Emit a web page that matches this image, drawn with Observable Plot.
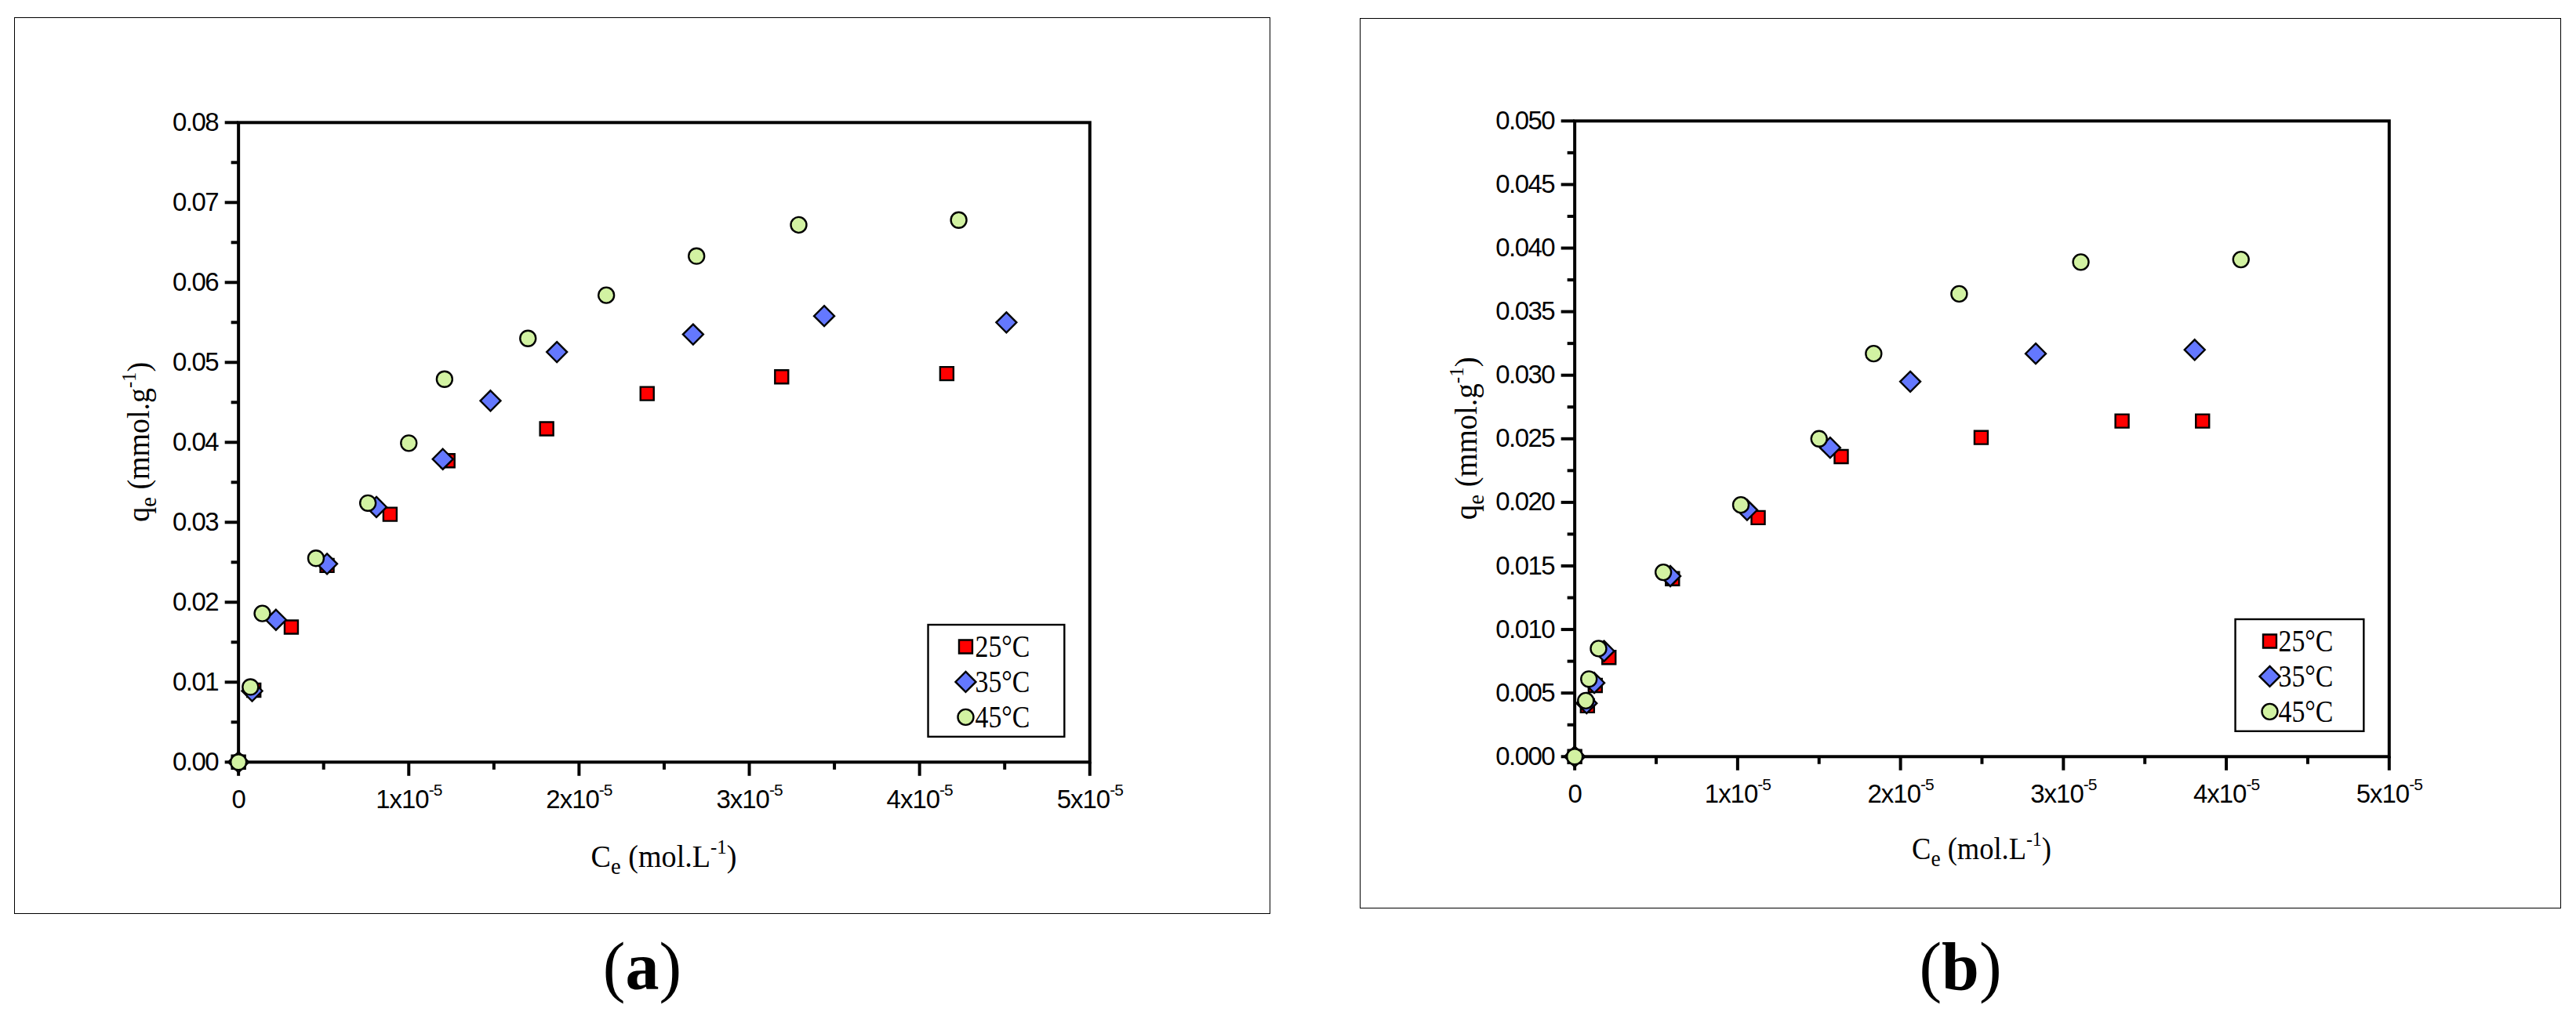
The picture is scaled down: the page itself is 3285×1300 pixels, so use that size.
<!DOCTYPE html>
<html>
<head>
<meta charset="utf-8">
<script src="https://cdn.jsdelivr.net/npm/d3@7"></script>
<script src="https://cdn.jsdelivr.net/npm/@observablehq/plot@0.6"></script>
<style>
  html, body { margin: 0; padding: 0; background: #fff; }
  body { width: 3285px; height: 1300px; position: relative; overflow: hidden; }
  .panel { position: absolute; box-sizing: border-box; border: 1.3px solid #000; }
  .panel svg { position: absolute; left: -1px; top: -1px; overflow: visible; }
  .cap { position: absolute; text-align: center; font-family: "Liberation Serif", "Times New Roman", serif;
         font-size: 86px; line-height: 1; color: #000; }
  .cap b { font-weight: bold; }
</style>
</head>
<body>
<div id="pa" class="panel" style="left:18px; top:22px; width:1602px; height:1144px;"></div>
<div id="pb" class="panel" style="left:1734px; top:23px; width:1532px; height:1136px;"></div>
<div class="cap" style="left:18px; width:1602px; top:1190px;">(<b>a</b>)</div>
<div class="cap" style="left:1734px; width:1532px; top:1190px;">(<b>b</b>)</div>
<script>
// ---------- data ----------
const seriesNames = ["25°C", "35°C", "45°C"];

// x ticks (mol/L)
const xMajorTicks = [0, 1e-5, 2e-5, 3e-5, 4e-5, 5e-5];
const xMinorTicks = [0.5e-5, 1.5e-5, 2.5e-5, 3.5e-5, 4.5e-5];

// panel (a) y ticks
const aYMajor = [0, 0.01, 0.02, 0.03, 0.04, 0.05, 0.06, 0.07, 0.08];
const aYMinor = [0.005, 0.015, 0.025, 0.035, 0.045, 0.055, 0.065, 0.075];
// panel (b) y ticks
const bYMajor = [0, 0.005, 0.010, 0.015, 0.020, 0.025, 0.030, 0.035, 0.040, 0.045, 0.050];
const bYMinor = [0.0025, 0.0075, 0.0125, 0.0175, 0.0225, 0.0275, 0.0325, 0.0375, 0.0425, 0.0475];

// panel (a) — Ce in units of 1e-5 mol/L, qe in mmol/g
const a25Ce = [0, 0.09, 0.31, 0.52, 0.89, 1.23, 1.81, 2.40, 3.19, 4.16];
const a25Qe = [0, 0.0090, 0.0169, 0.0246, 0.0310, 0.0377, 0.0417, 0.0461, 0.0482, 0.0486];
const a35Ce = [0, 0.08, 0.22, 0.52, 0.81, 1.20, 1.48, 1.87, 2.67, 3.44, 4.51];
const a35Qe = [0, 0.0089, 0.0178, 0.0248, 0.0319, 0.0379, 0.0452, 0.0513, 0.0535, 0.0558, 0.0550];
const a45Ce = [0, 0.07, 0.14, 0.455, 0.76, 1.00, 1.21, 1.70, 2.16, 2.69, 3.29, 4.23];
const a45Qe = [0, 0.0094, 0.0186, 0.0255, 0.0324, 0.0399, 0.0479, 0.0530, 0.0584, 0.0633, 0.0672, 0.0678];

// panel (b)
const b25Ce = [0, 0.078, 0.126, 0.21, 0.60, 1.126, 1.636, 2.495, 3.36, 3.854];
const b25Qe = [0, 0.0040, 0.0056, 0.0078, 0.0140, 0.0188, 0.0236, 0.0251, 0.0264, 0.0264];
const b35Ce = [0, 0.073, 0.12, 0.18, 0.587, 1.058, 1.568, 2.06, 2.83, 3.806];
const b35Qe = [0, 0.0042, 0.0058, 0.0083, 0.0142, 0.0194, 0.0243, 0.0295, 0.0317, 0.0320];
const b45Ce = [0, 0.068, 0.087, 0.146, 0.544, 1.02, 1.50, 1.835, 2.36, 3.107, 4.09];
const b45Qe = [0, 0.0044, 0.0061, 0.0085, 0.0145, 0.0198, 0.0250, 0.0317, 0.0364, 0.0389, 0.0391];

// ---------- styling ----------
const NS = "http://www.w3.org/2000/svg";
const serif = "'Liberation Serif', 'Times New Roman', serif";
const sans = "'Liberation Sans', Arial, sans-serif";
const symStyles = [
  {symbol: "square",   r: 9.6,  fill: "#ff0000", d3sym: d3.symbolSquare,   size: 289},
  {symbol: "diamond2", r: 11.7, fill: "#6478ff", d3sym: d3.symbolDiamond2, size: 431},
  {symbol: "circle",   r: 10,   fill: "#d2f2a2", d3sym: d3.symbolCircle,   size: Math.PI * 100}
];

function rows(ce, qe) { return ce.map((c, i) => ({ce: c * 1e-5, qe: qe[i]})); }

function el(tag, attrs, parent) {
  const e = document.createElementNS(NS, tag);
  for (const k in attrs) e.setAttribute(k, attrs[k]);
  if (parent) parent.appendChild(e);
  return e;
}

function makePanel(cfg) {
  const host = document.getElementById(cfg.id);
  const {width, height, mL, mR, mT, mB} = cfg;
  const marks = [
    Plot.axisY(cfg.yMinor, {tickSize: 9, strokeWidth: 4, fill: "none", label: null}),
    Plot.axisY(cfg.yMajor, {tickSize: 17, tickPadding: 9, strokeWidth: 4, label: null,
      tickFormat: d => d.toFixed(cfg.yDigits)}),
    Plot.axisX(xMinorTicks, {tickSize: 10, strokeWidth: 4, fill: "none", label: null}),
    Plot.axisX(xMajorTicks, {tickSize: 18, tickPadding: 17, strokeWidth: 4, label: null,
      tickFormat: d => d === 0 ? "0" : `${Math.round(d * 1e5)}x10`}),
    Plot.frame({stroke: "#000", strokeWidth: 4})
  ];
  cfg.series.forEach((s, i) => {
    const st = symStyles[i];
    marks.push(Plot.dot(rows(s[0], s[1]), {x: "ce", y: "qe", symbol: st.symbol, r: st.r,
      fill: st.fill, stroke: "#000", strokeWidth: 2.4}));
  });
  const chart = Plot.plot({
    width, height, marginLeft: mL, marginRight: mR, marginTop: mT, marginBottom: mB,
    style: {fontFamily: sans, fontSize: "33px", color: "#000", background: "transparent", overflow: "visible"},
    x: {domain: [0, 5e-5]},
    y: {domain: cfg.yDomain},
    marks
  });
  host.appendChild(chart);
  const svg = chart;

  svg.querySelectorAll('g[aria-label="y-axis tick label"] text').forEach(t => t.setAttribute("letter-spacing", "-1.5"));
  svg.querySelectorAll('g[aria-label="x-axis tick label"] text').forEach(t => {
    t.setAttribute("letter-spacing", "-1");
    if (t.textContent !== "0") {
      const ts = el("tspan", {dy: "-16", "font-size": "21"}, t);
      ts.textContent = "-5";
    }
  });

  const plotW = width - mL - mR, plotH = height - mT - mB;

  // y label
  const gy = el("g", {}, svg);
  const ty = el("text", {"font-family": serif, "font-size": 40, fill: "#000", "text-anchor": "middle"}, gy);
  ty.innerHTML = 'q<tspan font-size="30" dy="9">e</tspan><tspan dy="-9"> (mmol.g</tspan><tspan font-size="26" dy="-17">-1</tspan><tspan dy="17">)</tspan>';
  const wy = ty.getComputedTextLength() || cfg.yLabW;
  gy.setAttribute("transform", `translate(${mL - cfg.yLabOff},${mT + plotH / 2}) rotate(-90) scale(${cfg.yLabW / wy},1)`);

  // x label
  const gx = el("g", {}, svg);
  const tx = el("text", {"font-family": serif, "font-size": 40, fill: "#000", "text-anchor": "middle"}, gx);
  tx.innerHTML = 'C<tspan font-size="30" dy="9">e</tspan><tspan dy="-9"> (mol.L</tspan><tspan font-size="26" dy="-17">-1</tspan><tspan dy="17">)</tspan>';
  const wx = tx.getComputedTextLength() || cfg.xLabW;
  gx.setAttribute("transform", `translate(${mL + plotW / 2},${mT + plotH + cfg.xLabOff}) scale(${cfg.xLabW / wx},1)`);

  // legend (anchored inside bottom-right of plot area)
  const lw = cfg.legW, lh = 143;
  const lx = mL + plotW - 32 - lw, ly = mT + plotH - 32 - lh;
  const lg = el("g", {transform: `translate(${lx},${ly})`}, svg);
  el("rect", {x: 0, y: 0, width: lw, height: lh, fill: "#fff", stroke: "#000", "stroke-width": 2.4}, lg);
  seriesNames.forEach((name, i) => {
    const st = symStyles[i];
    const cy = 28 + i * 45;
    el("path", {d: d3.symbol(st.d3sym, st.size)(), transform: `translate(${cfg.legSymX},${cy})`,
      fill: st.fill, stroke: "#000", "stroke-width": 2.4}, lg);
    const g = el("g", {}, lg);
    const t = el("text", {"font-family": serif, "font-size": 40, fill: "#000"}, g);
    t.textContent = name;
    const w = t.getComputedTextLength() || 70;
    g.setAttribute("transform", `translate(${cfg.legTxtX},${cy + 13}) scale(${70 / w},1)`);
  });
}

makePanel({
  id: "pa", width: 1602, height: 1144, mL: 286, mR: 229, mT: 134, mB: 193,
  yDomain: [0, 0.08], yMajor: aYMajor, yMinor: aYMinor, yDigits: 2,
  series: [[a25Ce, a25Qe], [a35Ce, a35Qe], [a45Ce, a45Qe]],
  yLabOff: 114, yLabW: 204, xLabOff: 134, xLabW: 186,
  legW: 174, legSymX: 48, legTxtX: 95
});
makePanel({
  id: "pb", width: 1532, height: 1136, mL: 274, mR: 218, mT: 131, mB: 193,
  yDomain: [0, 0.05], yMajor: bYMajor, yMinor: bYMinor, yDigits: 3,
  series: [[b25Ce, b25Qe], [b35Ce, b35Qe], [b45Ce, b45Qe]],
  yLabOff: 125, yLabW: 208, xLabOff: 131, xLabW: 178,
  legW: 164, legSymX: 44, legTxtX: 90
});
</script>
</body>
</html>
